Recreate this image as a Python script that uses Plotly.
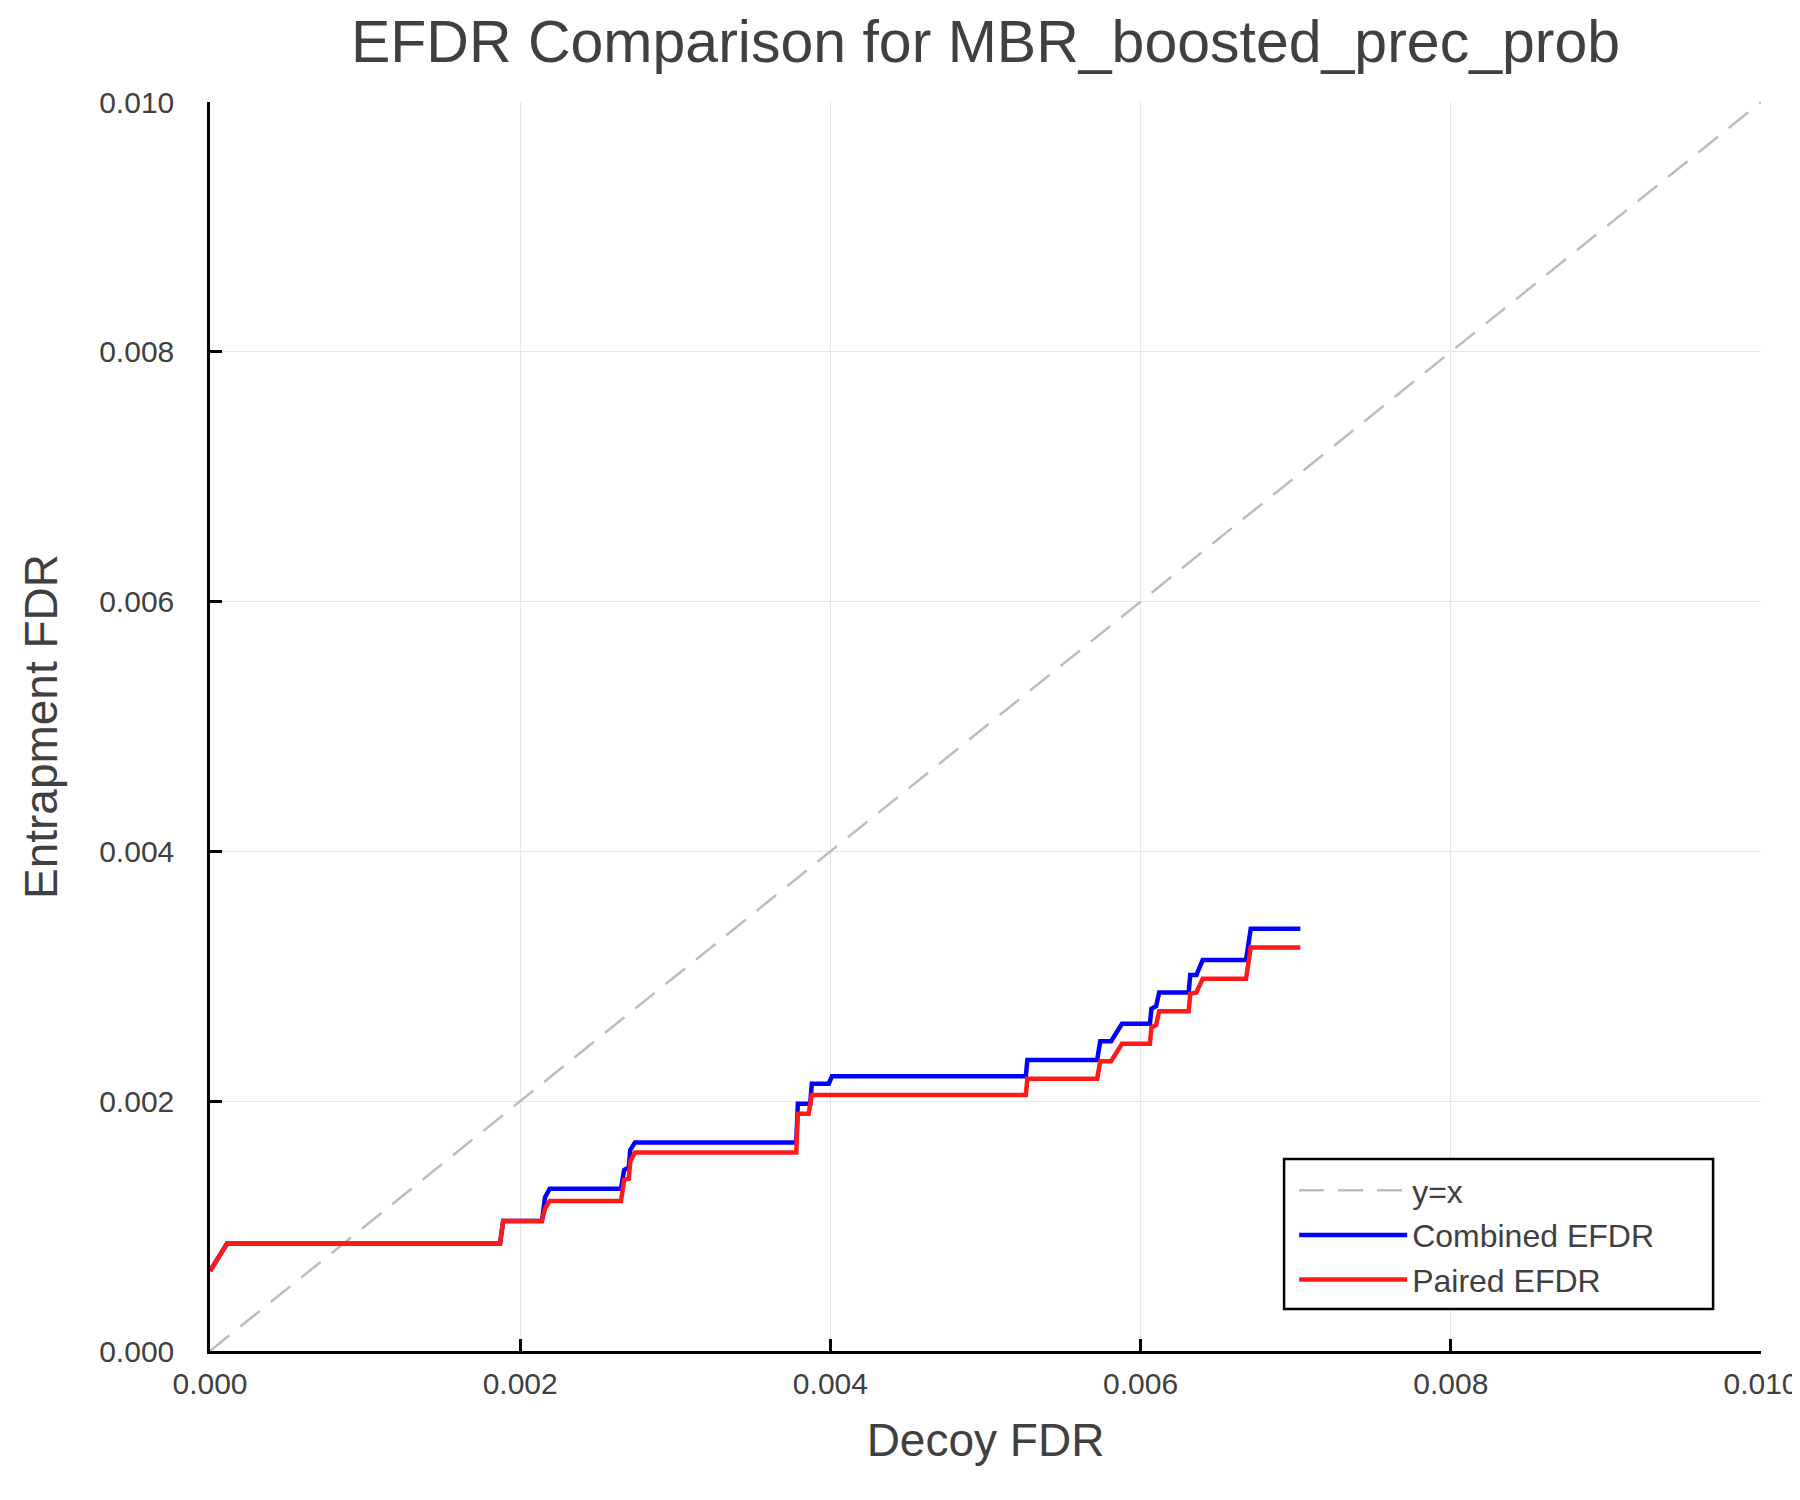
import plotly.graph_objects as go

# decoy FDR vs entrapment FDR
combined_x = [0.0, 0.00011, 0.00187, 0.00189, 0.00214, 0.00216, 0.00219, 0.00265, 0.00267,
              0.00270, 0.00271, 0.00274, 0.00378, 0.00379, 0.00387, 0.00388, 0.00399, 0.00401,
              0.00526, 0.00527, 0.00572, 0.00574, 0.00581, 0.00588, 0.00606, 0.00607, 0.00610,
              0.00612, 0.00631, 0.00632, 0.00636, 0.00640, 0.00668, 0.00671, 0.00703]
combined_y = [0.00064, 0.00086, 0.00086, 0.00104, 0.00104, 0.00123, 0.00130, 0.00130, 0.00145,
              0.00147, 0.00161, 0.00167, 0.00167, 0.00198, 0.00198, 0.00214, 0.00214, 0.00220,
              0.00220, 0.00233, 0.00233, 0.00248, 0.00248, 0.00262, 0.00262, 0.00274, 0.00276,
              0.00287, 0.00287, 0.00301, 0.00301, 0.00313, 0.00313, 0.00338, 0.00338]

paired_x = [0.0, 0.00011, 0.00187, 0.00189, 0.00214, 0.00216, 0.00219, 0.00265, 0.00267,
            0.00270, 0.00271, 0.00274, 0.00378, 0.00379, 0.00386, 0.00388, 0.00526, 0.00527,
            0.00572, 0.00574, 0.00581, 0.00588, 0.00606, 0.00607, 0.00610, 0.00612, 0.00631,
            0.00632, 0.00636, 0.00640, 0.00668, 0.00671, 0.00703]
paired_y = [0.00064, 0.00086, 0.00086, 0.00104, 0.00104, 0.00114, 0.00120, 0.00120, 0.00137,
            0.00138, 0.00152, 0.00159, 0.00159, 0.00190, 0.00190, 0.00205, 0.00205, 0.00218,
            0.00218, 0.00232, 0.00232, 0.00246, 0.00246, 0.00259, 0.00261, 0.00272, 0.00272,
            0.00286, 0.00287, 0.00298, 0.00298, 0.00323, 0.00323]

diag = [0.0, 0.01]
ticks = [0.0, 0.002, 0.004, 0.006, 0.008, 0.010]

font = "Liberation Sans, Arial, sans-serif"
text_color = "#404040"

fig = go.Figure()
fig.add_trace(go.Scatter(x=diag, y=diag, mode="lines", name="y=x",
                         line=dict(color="#bdbdbd", width=2.5, dash="25px,14px")))
fig.add_trace(go.Scatter(x=combined_x, y=combined_y, mode="lines", name="Combined EFDR",
                         line=dict(color="#0000ff", width=4.5)))
fig.add_trace(go.Scatter(x=paired_x, y=paired_y, mode="lines", name="Paired EFDR",
                         line=dict(color="#ff1a1a", width=4.5)))

axis_style = dict(
    range=[0, 0.0100001], tickvals=ticks, tickformat=".3f", automargin=False,
    showgrid=True, gridcolor="#e6e6e6", gridwidth=1, zeroline=False,
    showline=True, linecolor="black", linewidth=2.5,
    ticks="inside", ticklen=12, tickwidth=2.5, tickcolor="black",
    tickfont=dict(family=font, size=30, color=text_color),
)

fig.update_xaxes(**axis_style, ticklabelstandoff=4,
                 title=dict(text="Decoy FDR", font=dict(family=font, size=46, color=text_color),
                            standoff=26))
fig.update_yaxes(**axis_style, ticklabelstandoff=27,
                 title=dict(text="Entrapment FDR", font=dict(family=font, size=46, color=text_color),
                            standoff=28))

# legend frame (wider than plotly's own legend box)
fig.add_shape(type="rect", xref="paper", yref="paper",
              x0=0.6925, x1=0.9691, y0=0.0336, y1=0.1537,
              line=dict(color="black", width=2.5), fillcolor="white", layer="above")

fig.update_layout(
    width=1800, height=1500,
    margin=dict(l=202, r=47, t=94, b=157),
    plot_bgcolor="white", paper_bgcolor="white",
    title=dict(text="EFDR Comparison for MBR_boosted_prec_prob", xref="paper", x=0.5,
               xanchor="center", y=1 - 33 / 1500, yanchor="middle",
               font=dict(family=font, size=59, color=text_color)),
    legend=dict(x=0.699, y=0.1505, xanchor="left", yanchor="top",
                bgcolor="rgba(0,0,0,0)", borderwidth=0,
                font=dict(family=font, size=32, color=text_color),
                itemwidth=108, tracegroupgap=0),
    showlegend=True,
)

fig.write_html("out.html")
